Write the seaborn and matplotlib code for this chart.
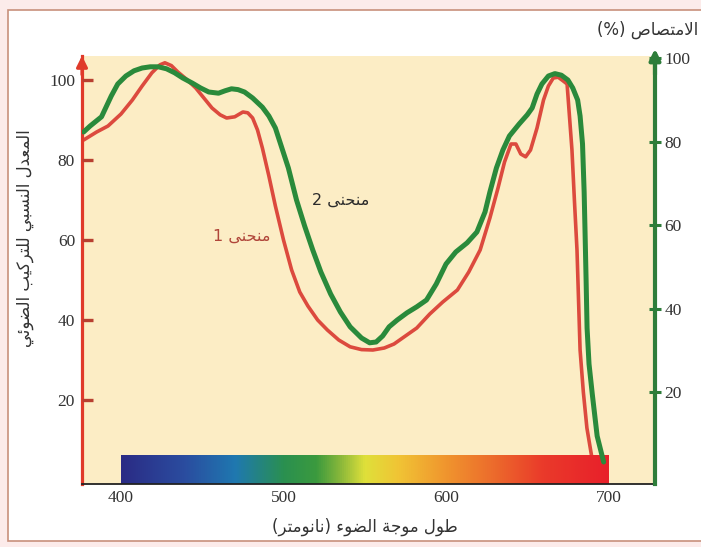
import numpy as np
import pandas as pd
import matplotlib
matplotlib.use("Agg")
import matplotlib.pyplot as plt
import seaborn as sns
from matplotlib.colors import LinearSegmentedColormap
from matplotlib.patches import Rectangle

# ---------------- data ----------------
wl_curve1 = [377, 385, 392, 400, 407, 413, 419, 424, 427, 431, 435, 440, 446, 451, 456,
             461, 465, 470, 475, 478, 481, 484, 487, 491, 495, 500, 505, 510, 515, 521,
             527, 534, 541, 548, 555, 562, 568, 575, 582, 590, 598, 607, 614, 621, 627,
             632, 636, 640, 643, 646, 649, 652, 656, 660, 663, 666, 669, 672, 674.5,
             677.5, 679, 680.6, 682.5, 684.5, 686.7, 690]
val_curve1 = [85, 87, 88.5, 91.5, 95, 98.5, 101.8, 103.8, 104.3, 103.6, 102, 100.3, 98, 95.5, 93,
              91.3, 90.5, 90.8, 92, 91.8, 90.5, 87.5, 83, 76, 68.5, 60, 52.5, 47, 43.5, 40,
              37.5, 35, 33.3, 32.6, 32.5, 33, 34, 36, 38, 41.5, 44.5, 47.5, 52, 57.5, 65.5,
              73, 79.5, 84, 84, 81.5, 80.8, 82.5, 88, 95, 98.5, 100.5, 100.7, 99.8, 99,
              82.5, 70, 57.5, 32.5, 22, 13, 5]

wl_curve2 = [377, 381, 388, 394, 398, 403, 408, 413, 418, 423, 428, 433, 438, 444, 449,
             454, 460, 464, 468, 472, 476, 481, 487, 491, 495, 499, 503, 508, 513, 518,
             523, 529, 535, 541, 548, 553, 557, 561, 565, 570, 576, 582, 588, 594, 600,
             606, 613, 619, 624, 627, 631, 635, 639, 645, 650, 653, 656, 659, 663, 667,
             671, 675, 678, 681, 682.5, 684, 685, 685.5, 686.2, 686.8, 688, 690, 693, 697]
val_curve2 = [87, 88.5, 90.8, 96, 99, 101, 102.3, 103, 103.3, 103.3, 102.8, 101.8, 100.5, 99.2, 98,
              97, 96.7, 97.3, 97.8, 97.6, 97, 95.5, 93.2, 91, 88, 83, 78, 70, 63.5, 57.5,
              52, 46.5, 42, 38.3, 35.5, 34.3, 34.5, 36, 38.3, 40, 41.8, 43.3, 45, 49, 54,
              57, 59.3, 62, 67, 72, 78, 82.5, 86, 89, 91.3, 93, 96.5, 99, 101, 101.6,
              101.2, 100, 98, 95, 91, 84, 72, 63, 50, 38, 29, 21.5, 11, 4.5]

x_ticks = [400, 500, 600, 700]
y_ticks_left = [20, 40, 60, 80, 100]
y_ticks_right = [20, 40, 60, 80, 100]

spectrum_wl = [400, 440, 470, 500, 520, 535, 550, 570, 600, 630, 660, 700]
spectrum_colors = ["#2b2b85", "#2a4ea0", "#1f78b0", "#2a9050", "#3b9a3e", "#8ab83a",
                   "#dfe03a", "#f0c535", "#f0952e", "#ec6a2c", "#ea3a2a", "#e8202a"]

label_curve1 = "منحنى 1"
label_curve2 = "منحنى 2"
y_label_left = "المعدل النسبي للتركيب الضوئي"
y_label_right = "الامتصاص (%)"
x_label = "طول موجة الضوء (نانومتر)"

# ---------------- Arabic shaping (presentation forms + visual order) ----------------
FORMS = {
    '\u0621': ('\uFE80', None, None, None),
    '\u0626': ('\uFE89', '\uFE8A', '\uFE8B', '\uFE8C'),
    '\u0627': ('\uFE8D', '\uFE8E', None, None),
    '\u0628': ('\uFE8F', '\uFE90', '\uFE91', '\uFE92'),
    '\u0629': ('\uFE93', '\uFE94', None, None),
    '\u062A': ('\uFE95', '\uFE96', '\uFE97', '\uFE98'),
    '\u062C': ('\uFE9D', '\uFE9E', '\uFE9F', '\uFEA0'),
    '\u062D': ('\uFEA1', '\uFEA2', '\uFEA3', '\uFEA4'),
    '\u062F': ('\uFEA9', '\uFEAA', None, None),
    '\u0631': ('\uFEAD', '\uFEAE', None, None),
    '\u0633': ('\uFEB1', '\uFEB2', '\uFEB3', '\uFEB4'),
    '\u0635': ('\uFEB9', '\uFEBA', '\uFEBB', '\uFEBC'),
    '\u0636': ('\uFEBD', '\uFEBE', '\uFEBF', '\uFEC0'),
    '\u0637': ('\uFEC1', '\uFEC2', '\uFEC3', '\uFEC4'),
    '\u0639': ('\uFEC9', '\uFECA', '\uFECB', '\uFECC'),
    '\u0643': ('\uFED9', '\uFEDA', '\uFEDB', '\uFEDC'),
    '\u0644': ('\uFEDD', '\uFEDE', '\uFEDF', '\uFEE0'),
    '\u0645': ('\uFEE1', '\uFEE2', '\uFEE3', '\uFEE4'),
    '\u0646': ('\uFEE5', '\uFEE6', '\uFEE7', '\uFEE8'),
    '\u0648': ('\uFEED', '\uFEEE', None, None),
    '\u0649': ('\uFEEF', '\uFEF0', None, None),
    '\u064A': ('\uFEF1', '\uFEF2', '\uFEF3', '\uFEF4'),
}


def _joins_next(c):
    return c in FORMS and FORMS[c][2] is not None


def _joins_prev(c):
    return c in FORMS and FORMS[c][1] is not None


def shape(s):
    chars = list(s)
    n = len(chars)
    res = []
    i = 0
    while i < n:
        c = chars[i]
        if c not in FORMS:
            res.append(c)
            i += 1
            continue
        prev = chars[i - 1] if i > 0 else None
        cp = prev is not None and _joins_next(prev) and _joins_prev(c)
        if c == '\u0644' and i + 1 < n and chars[i + 1] == '\u0627':
            res.append('\uFEFC' if cp else '\uFEFB')
            i += 2
            continue
        nxt = chars[i + 1] if i + 1 < n else None
        cn = nxt is not None and _joins_next(c) and _joins_prev(nxt)
        iso, fin, ini, med = FORMS[c]
        if cp and cn:
            f = med
        elif cp:
            f = fin
        elif cn:
            f = ini
        else:
            f = iso
        res.append(f)
        i += 1
    mirror = {'(': ')', ')': '('}
    return ''.join(mirror.get(ch, ch) for ch in reversed(res))


# ---------------- figure ----------------
sns.set_style("white")
plt.rcParams['font.family'] = ['Liberation Serif', 'DejaVu Sans']
AR = ['DejaVu Sans']

W, H = 701, 547
fig = plt.figure(figsize=(W / 100, H / 100), dpi=100)
fig.patch.set_facecolor('#fcebea')
fig.patches.append(Rectangle((8 / W, 1 - 541 / H), 1.2, (541 - 10) / H,
                             transform=fig.transFigure, facecolor='white',
                             edgecolor='#c8907c', lw=1.2, zorder=-10))

ax_top, ax_bot = 56, 484
ax = fig.add_axes([82 / W, 1 - ax_bot / H, (655 - 82) / W, (ax_bot - ax_top) / H])
ax.set_facecolor('#fcedc5')

red = '#dc4a3e'
green = '#2a8a3b'
red_spine = '#e03a2a'
green_spine = '#2e7d3a'

df1 = pd.DataFrame({'wl': wl_curve1, 'v': val_curve1})
df2 = pd.DataFrame({'wl': wl_curve2, 'v': val_curve2})

sns.lineplot(data=df1, x='wl', y='v', ax=ax, color=red, linewidth=2.6, zorder=1.2)

# spectrum bar
cmap = LinearSegmentedColormap.from_list(
    'spec', [((w - spectrum_wl[0]) / (spectrum_wl[-1] - spectrum_wl[0]), c)
             for w, c in zip(spectrum_wl, spectrum_colors)])
grad = np.linspace(0, 1, 512).reshape(1, -1)
ax.imshow(grad, cmap=cmap, aspect='auto',
          extent=[spectrum_wl[0], spectrum_wl[-1], -1.0, 6.2], zorder=1.5)

sns.lineplot(data=df2, x='wl', y='v', ax=ax, color=green, linewidth=3.6, zorder=3)

ax.set_xlim(376, 728.6)
ax.set_ylim((480 - ax_bot) / 4.0, (480 - ax_top) / 4.0)
ax.set_xlabel('')
ax.set_ylabel('')
ax.set_axisbelow(False)

ax.set_xticks(x_ticks)
ax.set_xticklabels([str(t) for t in x_ticks])
ax.set_yticks(y_ticks_left)
ax.set_yticklabels([str(t) for t in y_ticks_left])
ax.tick_params(axis='x', direction='in', length=5, width=1.2, color='black',
               labelsize=12.5, labelcolor='#333333', pad=4)
ax.tick_params(axis='y', direction='in', length=8, width=2.4, color='#b84030',
               labelsize=12.5, labelcolor='#333333', pad=5)

for s in ['top', 'right']:
    ax.spines[s].set_visible(False)
ax.spines['left'].set_color(red_spine)
ax.spines['left'].set_linewidth(2.3)
ax.spines['bottom'].set_color('#222222')
ax.spines['bottom'].set_linewidth(1.3)

ax2 = ax.twinx()
ax2.set_ylim((476 - ax_bot) / 4.18, (476 - ax_top) / 4.18)
ax2.set_yticks(y_ticks_right)
ax2.set_yticklabels([str(t) for t in y_ticks_right])
ax2.tick_params(axis='y', direction='inout', length=8, width=2.2, color=green_spine,
                labelsize=12.5, labelcolor='#333333', pad=3)
for s in ['top', 'left', 'bottom']:
    ax2.spines[s].set_visible(False)
ax2.spines['right'].set_color(green_spine)
ax2.spines['right'].set_linewidth(3.0)
ax2.grid(False)

# axis arrows
ax.annotate('', xy=(0, (ax_bot - 53) / (ax_bot - ax_top)), xycoords='axes fraction',
            xytext=(0, 0.95), textcoords='axes fraction',
            arrowprops=dict(arrowstyle='-|>', color=red_spine, lw=2.3, mutation_scale=16),
            annotation_clip=False)
ax.annotate('', xy=(1, (ax_bot - 46) / (ax_bot - ax_top)), xycoords='axes fraction',
            xytext=(1, 0.95), textcoords='axes fraction',
            arrowprops=dict(arrowstyle='-|>', color=green_spine, lw=3.0, mutation_scale=16),
            annotation_clip=False)

# curve labels
ax.text(535, 70, shape(label_curve2), family=AR, fontsize=11.5, color='#2b2b2b',
        ha='center', va='center', zorder=5)
ax.text(474, 61, shape(label_curve1), family=AR, fontsize=11.5, color='#b0463a',
        ha='center', va='center', zorder=5)

# axis titles
fig.text(25 / W, 1 - 238 / H, shape(y_label_left), family=AR, fontsize=12,
         color='#333333', rotation=90, ha='center', va='center')
fig.text(698 / W, 1 - 30 / H, shape(y_label_right), family=AR, fontsize=12,
         color='#333333', ha='right', va='center')
fig.text(365 / W, 1 - 527 / H, shape(x_label), family=AR, fontsize=12,
         color='#333333', ha='center', va='center')

fig.savefig('out.png', dpi=100, facecolor=fig.get_facecolor())
